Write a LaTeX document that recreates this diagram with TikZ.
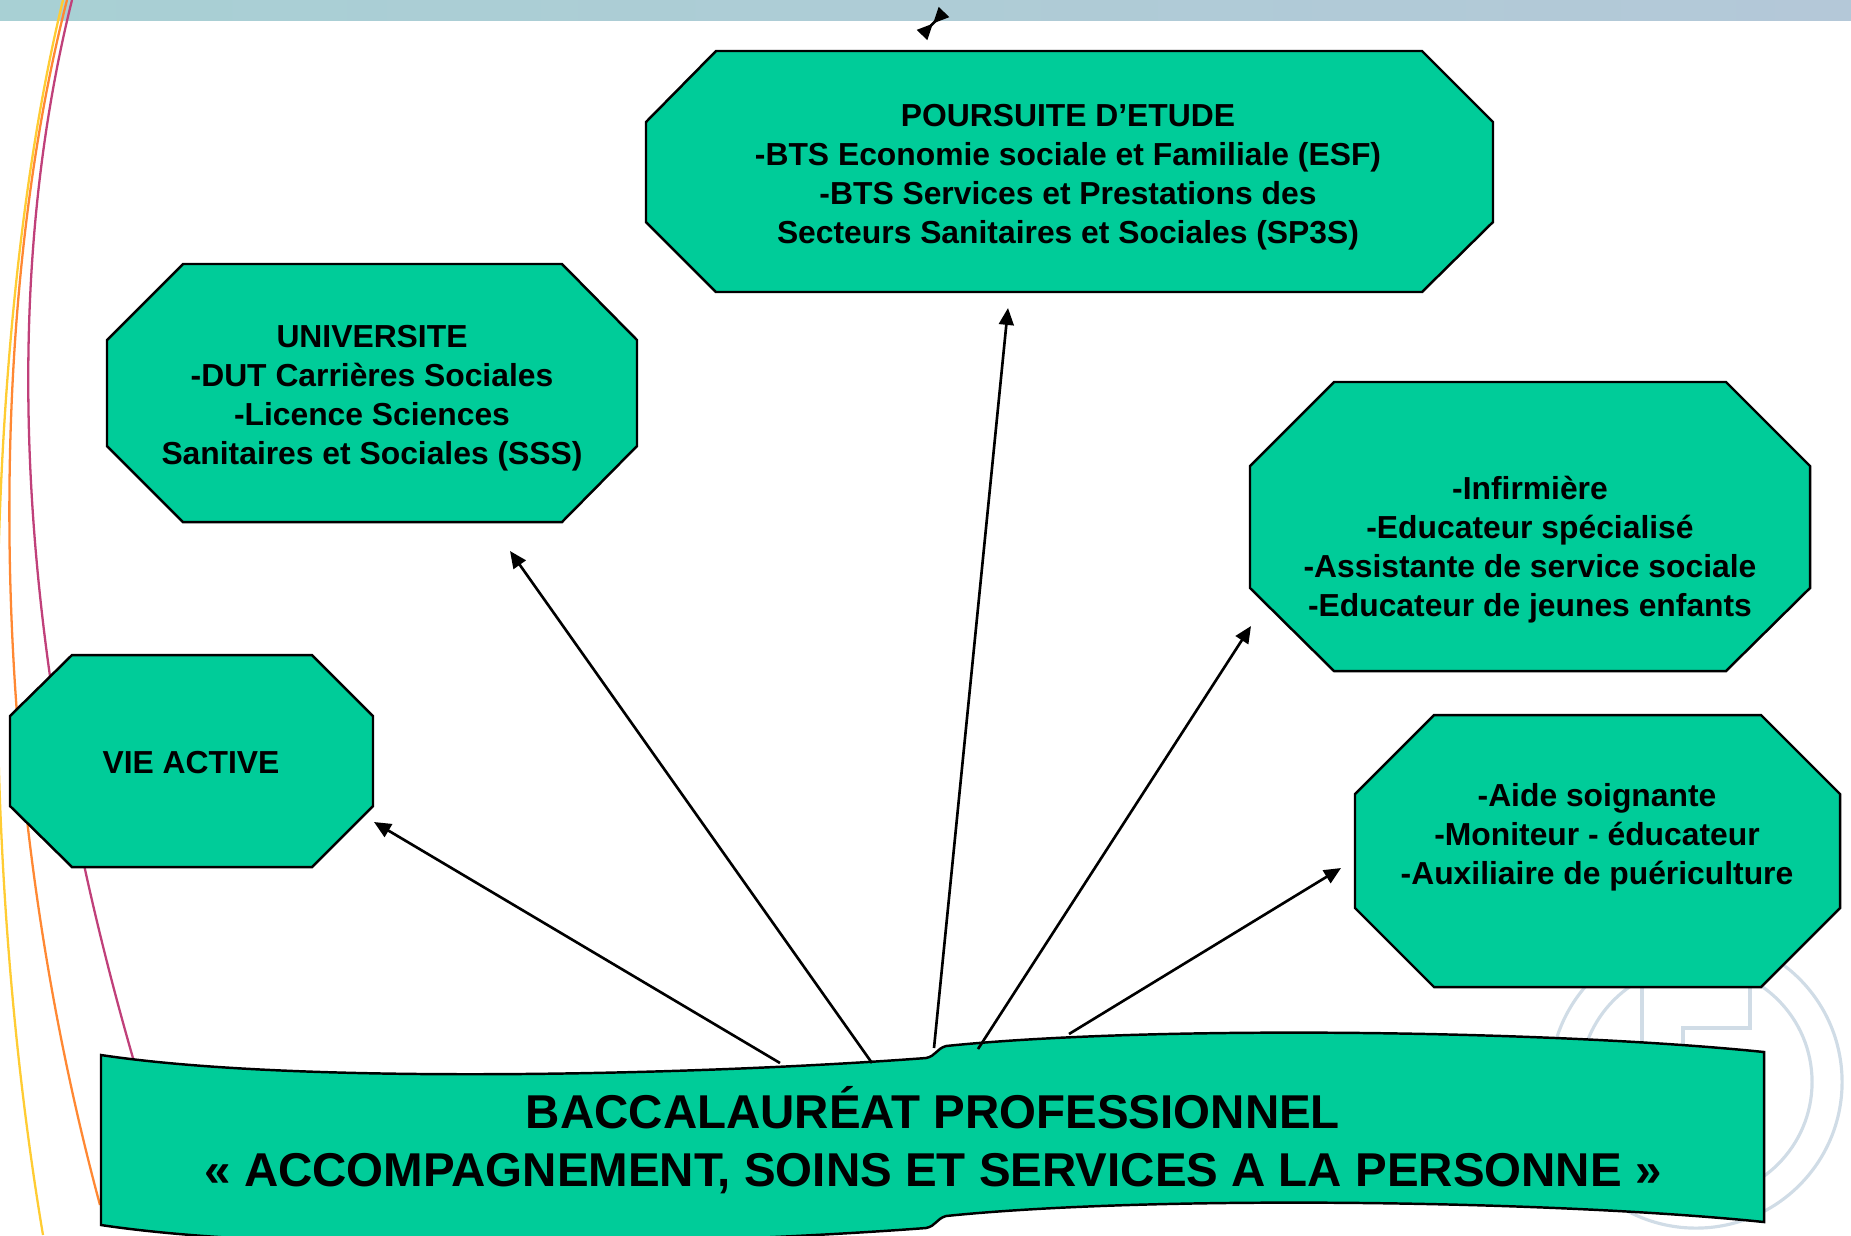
\documentclass[tikz,border=0pt]{standalone}
\usepackage{fontspec}
\setmainfont{Liberation Sans}
\usetikzlibrary{arrows.meta}
\definecolor{vert}{RGB}{0,204,153}
\definecolor{barreL}{RGB}{168,208,212}
\definecolor{barreM}{RGB}{168,188,210}
\definecolor{barreR}{RGB}{180,200,216}
\definecolor{courbeJ}{RGB}{255,204,51}
\definecolor{courbeO}{RGB}{255,136,51}
\definecolor{courbeM}{RGB}{192,64,122}
\definecolor{filigrane}{RGB}{208,220,230}
\begin{document}
\begin{tikzpicture}[x=0.01cm,y=-0.01cm]
		\tikzset{
			octo/.style ={
				fill=vert, %couleur de fond
				draw=black, %bordure
				line width=0.7pt
			},
			texte/.style ={
				align=center, %lignes centrees
				inner sep=0pt,
				font=\bfseries\fontsize{9.05}{11.1}\selectfont
			},
			fleche/.style ={
				-{Triangle[length=4.8pt,width=4.2pt]},
				line width=0.75pt
			},
			courbe/.style ={line width=0.65pt}
		}
		\useasboundingbox (0,0) rectangle (1851,1235);
		% bandeau du haut
		\shade[left color=barreL, middle color=barreM, right color=barreR] (0,0) rectangle (1851,20);
		% courbes decoratives
		\draw[courbe, courbeJ] (63,0) .. controls (-10,300) and (-30,800) .. (43,1235);
		\draw[courbe, courbeO] (67,0) .. controls (-10,300) and (-20,760) .. (100,1205);
		\draw[courbe, courbeM] (72,0) .. controls (10,250) and (0,600) .. (135,1065);
		% filigrane
		\draw[filigrane, line width=0.9pt] (1696,1082) circle[radius=1.46cm];
		\draw[filigrane, line width=0.9pt] (1696,1082) circle[radius=1.16cm];
		\draw[filigrane, line width=0.9pt] (1642,1200) -- (1642,950) -- (1750,950) -- (1750,1028) -- (1683,1028) -- (1683,1200);
		% octogones
		\draw[octo] (716,51) -- (1422,51) -- (1493,122) -- (1493,222) -- (1422,292) -- (716,292) -- (646,222) -- (646,122) -- cycle;
		\draw[octo] (183,264) -- (562,264) -- (637,340) -- (637,446) -- (562,522) -- (183,522) -- (107,446) -- (107,340) -- cycle;
		\draw[octo] (1334,382) -- (1726,382) -- (1810,466) -- (1810,588) -- (1726,671) -- (1334,671) -- (1250,588) -- (1250,466) -- cycle;
		\draw[octo] (1434,715) -- (1761,715) -- (1840,794) -- (1840,908) -- (1761,987) -- (1434,987) -- (1355,908) -- (1355,794) -- cycle;
		\draw[octo] (72,655) -- (312,655) -- (373,716) -- (373,806) -- (312,867) -- (72,867) -- (10,806) -- (10,716) -- cycle;
		\node[texte] (etude) at (1068,177) {POURSUITE D’ETUDE\\-BTS Economie sociale et Familiale (ESF)\\-BTS Services et Prestations des\\Secteurs Sanitaires et Sociales (SP3S)};
		\node[texte] (univ) at (372,398) {UNIVERSITE\\-DUT Carrières Sociales\\-Licence Sciences\\Sanitaires et Sociales (SSS)};
		\node[texte] (infirm) at (1530,550) {-Infirmière\\-Educateur spécialisé\\-Assistante de service sociale\\-Educateur de jeunes enfants};
		\node[texte] (aide) at (1597,837) {-Aide soignante\\-Moniteur - éducateur\\-Auxiliaire de puériculture};
		\node[texte] (vie) at (191,763) {VIE ACTIVE};
		% banniere
		\draw[octo] (101,1055) .. controls (300,1085) and (700,1075) .. (926,1058)
			.. controls (936,1056) and (936,1049) .. (946,1046)
			.. controls (1150,1025) and (1550,1030) .. (1764,1052)
			-- (1764,1222)
			.. controls (1550,1200) and (1150,1195) .. (946,1216)
			.. controls (936,1219) and (936,1226) .. (926,1228)
			.. controls (700,1245) and (300,1255) .. (101,1225) -- cycle;
		\node[texte, font=\bfseries\fontsize{13.5}{16.45}\selectfont] (bac) at (933,1140) {BACCALAURÉAT PROFESSIONNEL\\« ACCOMPAGNEMENT, SOINS ET SERVICES A LA PERSONNE »};
		% fleches
		\coordinate (p1) at (780,1063); \coordinate (q1) at (374,822);
		\coordinate (p2) at (872,1063); \coordinate (q2) at (510,551);
		\coordinate (p3) at (934,1048); \coordinate (q3) at (1008,308);
		\coordinate (p4) at (978,1049); \coordinate (q4) at (1251,626);
		\coordinate (p5) at (1069,1034); \coordinate (q5) at (1341,868);
		\draw[fleche] (p1)--(q1);
		\draw[fleche] (p2)--(q2);
		\draw[fleche] (p3)--(q3);
		\draw[fleche] (p4)--(q4);
		\draw[fleche] (p5)--(q5);
		% petite fleche en haut
		\coordinate (n1) at (922,35); \coordinate (n2) at (944,12);
		\draw[line width=0.75pt, {Triangle[reversed,length=4.5pt,width=4pt]}-{Triangle[reversed,length=4.5pt,width=4pt]}] (n1)--(n2);
	\end{tikzpicture}
\end{document}
